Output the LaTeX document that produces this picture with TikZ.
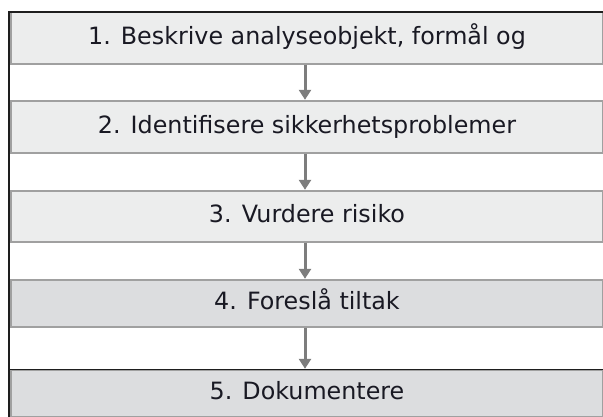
\documentclass[tikz,border=0pt]{standalone}
\usepackage{fontspec}
\setmainfont{DejaVu Sans}
\usetikzlibrary{arrows.meta}
\definecolor{lightbox}{RGB}{236,237,237}
\definecolor{darkbox}{RGB}{220,221,223}
\definecolor{bordergray}{RGB}{160,160,160}
\definecolor{arrowgray}{RGB}{125,125,125}
\definecolor{framedark}{RGB}{30,30,30}
\definecolor{textdark}{RGB}{25,25,35}
\begin{document}
\begin{tikzpicture}[x=1pt,y=-1pt,
  stepbox/.style={draw=bordergray, line width=1.4pt, minimum width=592pt,
    inner sep=0pt, text height=17.5pt, text depth=5pt, text=textdark,
    font=\fontsize{23.8}{28}\selectfont},
  arr/.style={draw=arrowgray, line width=3pt,
    -{Triangle[length=10pt,width=12pt]}, shorten >=0.5pt}]
\useasboundingbox (0,0) rectangle (603,416);
\begin{scope}
\clip (0,0) rectangle (603,416);
\node[stepbox, fill=lightbox, minimum height=52pt] (b1) at (307,38) {1. Beskrive analyseobjekt, formål og};
\node[stepbox, fill=lightbox, minimum height=52pt] (b2) at (307,127) {2. Identifisere sikkerhetsproblemer};
\node[stepbox, fill=lightbox, minimum height=51pt] (b3) at (307,216.5) {3. Vurdere risiko};
\node[stepbox, fill=darkbox, minimum height=47pt] (b4) at (307,303.5) {4. Foreslå tiltak};
\node[stepbox, fill=darkbox, minimum height=47pt] (b5) at (307,393.5) {5. Dokumentere};
\draw[arr] ([xshift=-2pt]b1.south) -- ([xshift=-2pt]b2.north);
\draw[arr] ([xshift=-2pt]b2.south) -- ([xshift=-2pt]b3.north);
\draw[arr] ([xshift=-2pt]b3.south) -- ([xshift=-2pt]b4.north);
\draw[arr] ([xshift=-2pt]b4.south) -- ([xshift=-2pt]b5.north);
\coordinate (ftl) at (9,11.5);
\coordinate (ftr) at (610,11.5);
\coordinate (fbl) at (9,425);
\draw[framedark, line width=2pt] (ftr) -- (ftl) -- (fbl);
\draw[framedark, line width=1.6pt] (b5.north west) -- (b5.north east);
\end{scope}
\end{tikzpicture}
\end{document}
